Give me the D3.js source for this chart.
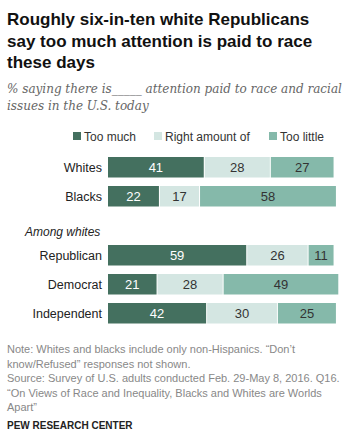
<!DOCTYPE html>
<html>
<head>
<meta charset="utf-8">
<script src="https://cdn.jsdelivr.net/npm/d3@7"></script>
<style>
  body { margin: 0; background: #fff; }
  svg { display: block; }
</style>
</head>
<body>
<div id="chart"></div>
<script>
// Data
const groups = ["Whites", "Blacks", "Republican", "Democrat", "Independent"];
const tooMuch = [41, 22, 59, 21, 42];
const rightAmount = [28, 17, 26, 28, 30];
const tooLittle = [27, 58, 11, 49, 25];
const seriesNames = ["Too much", "Right amount of", "Too little"];

const colors = ["#44705f", "#d4e6e2", "#85b9aa"];
const labelColors = ["#ffffff", "#333333", "#333333"];

const width = 354, height = 445;

const svg = d3.select("#chart").append("svg")
    .attr("width", width)
    .attr("height", height)
    .style("font-family", "'Liberation Sans', Arial, sans-serif");

// Title
const title = ["Roughly six-in-ten white Republicans",
    "say too much attention is paid to race",
    "these days"];
svg.append("g").selectAll("text")
    .data(title)
    .join("text")
    .attr("x", 7)
    .attr("y", (d, i) => 25 + i * 21.5)
    .attr("font-size", "17px")
    .attr("font-weight", "bold")
    .attr("fill", "#111")
    .text(d => d);

// Subtitle
const subtitle = ["% saying there is_____ attention paid to race and racial",
    "issues in the U.S. today"];
svg.append("g").selectAll("text")
    .data(subtitle)
    .join("text")
    .attr("x", 7)
    .attr("y", (d, i) => 93 + i * 17)
    .attr("font-family", "'DejaVu Serif', Georgia, serif")
    .attr("font-style", "italic")
    .attr("font-size", "12px")
    .attr("fill", "#666")
    .text(d => d);

// Legend
const legendX = [73, 154, 269];
const legend = svg.append("g").selectAll("g")
    .data(seriesNames)
    .join("g")
    .attr("transform", (d, i) => `translate(${legendX[i]}, 136)`);
legend.append("rect")
    .attr("x", 0).attr("y", -4)
    .attr("width", 8).attr("height", 8)
    .attr("fill", (d, i) => colors[i]);
legend.append("text")
    .attr("x", 11).attr("y", 4.5)
    .attr("font-size", "12px")
    .attr("fill", "#333")
    .text(d => d);

// Scales
const x = d3.scaleLinear().domain([0, 100]).range([108, 344]);
const rowY = [157, 186, 245, 274, 303];
const barH = 20.5;

const stacked = groups.map((g, i) => {
    const vals = [tooMuch[i], rightAmount[i], tooLittle[i]];
    let x0 = 0;
    return vals.map((v, k) => {
        const seg = { group: g, row: i, k: k, v: v, x0: x0, x1: x0 + v };
        x0 += v;
        return seg;
    });
});

// Category labels
svg.append("g").selectAll("text")
    .data(groups)
    .join("text")
    .attr("x", 102)
    .attr("y", (d, i) => rowY[i] + barH / 2 + 4.5)
    .attr("text-anchor", "end")
    .attr("font-size", "12.5px")
    .attr("fill", "#222")
    .text(d => d);

svg.append("text")
    .attr("x", 25)
    .attr("y", 236)
    .attr("font-size", "12px")
    .attr("font-style", "italic")
    .attr("fill", "#222")
    .text("Among whites");

// Bars
const segs = stacked.flat();
svg.append("g").selectAll("rect")
    .data(segs)
    .join("rect")
    .attr("x", d => x(d.x0))
    .attr("y", d => rowY[d.row])
    .attr("width", d => Math.max(0, x(d.x1) - x(d.x0) - 1))
    .attr("height", barH)
    .attr("fill", d => colors[d.k]);

svg.append("g").selectAll("text")
    .data(segs)
    .join("text")
    .attr("x", d => (x(d.x0) + x(d.x1) - 1) / 2)
    .attr("y", d => rowY[d.row] + barH / 2 + 4.5)
    .attr("text-anchor", "middle")
    .attr("font-size", "13px")
    .attr("fill", d => labelColors[d.k])
    .text(d => d.v);

// Notes
const notes = ["Note: Whites and blacks include only non-Hispanics. \u201cDon\u2019t",
    "know/Refused\u201d responses not shown.",
    "Source: Survey of U.S. adults conducted Feb. 29-May 8, 2016. Q16.",
    "\u201cOn Views of Race and Inequality, Blacks and Whites are Worlds",
    "Apart\u201d"];
svg.append("g").selectAll("text")
    .data(notes)
    .join("text")
    .attr("x", 7)
    .attr("y", (d, i) => 353 + i * 14.5)
    .attr("font-size", "11px")
    .attr("fill", "#888")
    .text(d => d);

svg.append("text")
    .attr("x", 7)
    .attr("y", 429)
    .attr("font-size", "10px")
    .attr("font-weight", "bold")
    .attr("fill", "#222")
    .text("PEW RESEARCH CENTER");
</script>
</body>
</html>
